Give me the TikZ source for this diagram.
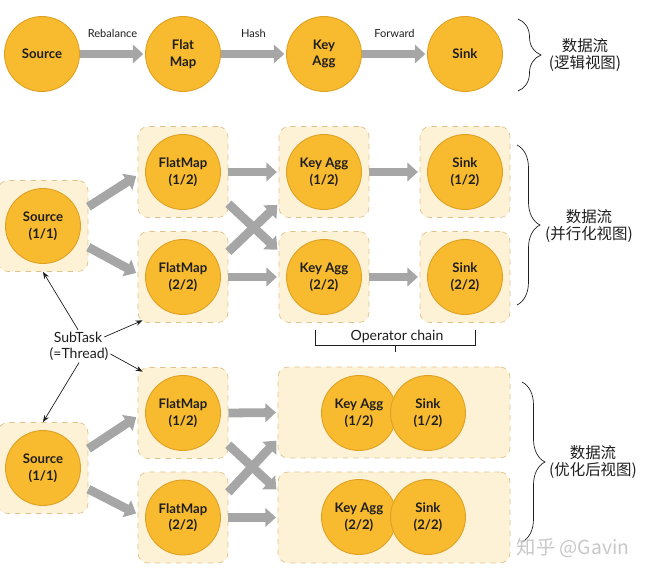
\documentclass[tikz,border=0pt]{standalone}
\usepackage{fontspec}
\setmainfont{Lato}
\newfontfamily\cjk{Noto Sans CJK SC}
\usepackage{tikz}
\usetikzlibrary{arrows.meta,positioning,calc,decorations.pathreplacing}
\definecolor{ink}{RGB}{30,30,30}
\definecolor{opfill}{RGB}{248,186,46}
\definecolor{opline}{RGB}{222,160,34}
\definecolor{taskfill}{RGB}{253,242,214}
\definecolor{taskline}{RGB}{222,194,138}
\definecolor{flowgray}{RGB}{166,166,166}
\definecolor{markgray}{RGB}{200,200,200}
\tikzset{
  opnode/.style={circle,draw=opline,line width=0.5pt,fill=opfill,minimum size=1.5cm,
    inner sep=0pt,align=center,text=ink,font=\fontsize{7.5}{9.5}\selectfont\bfseries},
  taskbox/.style={draw=taskline,dashed,fill=taskfill,rounded corners=0.2cm,
    minimum width=1.8cm,minimum height=1.82cm},
  chainbox/.style={taskbox,minimum width=4.64cm},
  flow/.style={draw=flowgray,line width=5pt,shorten >=1pt,
    -{Triangle[length=6pt,width=10.5pt]}},
  pointer/.style={thin,ink,-{Stealth[length=4pt,width=3pt]}},
  edgelabel/.style={font=\fontsize{6.3}{7}\selectfont,text=ink},
  note/.style={font=\fontsize{8}{10}\selectfont,align=center,text=ink,inner sep=1pt},
  viewnote/.style={font=\cjk\fontsize{8.8}{9.8}\selectfont,align=center,text=ink},
  viewbrace/.style={decorate,decoration={brace,amplitude=0.46cm},thin,ink}
}

\begin{document}
\begin{tikzpicture}[x=0.02cm,y=0.02cm]
  \useasboundingbox (0,0) rectangle (647,-575);

  % logical view
  \node[opnode] (lsrc) at (42,-54) {Source};
  \node[opnode] (lflat) at (183,-54) {Flat\\Map};
  \node[opnode] (lkey) at (324,-54) {Key\\Agg};
  \node[opnode] (lsink) at (465,-54) {Sink};
  \draw[flow] (lsrc) -- node[edgelabel,above=3.5pt] {Rebalance} (lflat);
  \draw[flow] (lflat) -- node[edgelabel,above=3.5pt] {Hash} (lkey);
  \draw[flow] (lkey) -- node[edgelabel,above=3.5pt] {Forward} (lsink);
  \draw[viewbrace] (518,-19) -- (518,-91);
  \node[viewnote] (lview) at (585,-55) {数据流\\(逻辑视图)};

  % parallel view
  \node[taskbox] (psrcbox) at (43,-226) {};
  \node[taskbox] (pflat1box) at (183,-172) {};
  \node[taskbox] (pflat2box) at (183,-277) {};
  \node[taskbox] (pkey1box) at (324,-172) {};
  \node[taskbox] (pkey2box) at (324,-277) {};
  \node[taskbox] (psink1box) at (465,-172) {};
  \node[taskbox] (psink2box) at (465,-277) {};
  \node[opnode] (psrc) at (psrcbox) {Source\\(1/1)};
  \node[opnode] (pflat1) at (pflat1box) {FlatMap\\(1/2)};
  \node[opnode] (pflat2) at (pflat2box) {FlatMap\\(2/2)};
  \node[opnode] (pkey1) at (pkey1box) {Key Agg\\(1/2)};
  \node[opnode] (pkey2) at (pkey2box) {Key Agg\\(2/2)};
  \node[opnode] (psink1) at (psink1box) {Sink\\(1/2)};
  \node[opnode] (psink2) at (psink2box) {Sink\\(2/2)};
  \draw[flow] (psrcbox.23) -- (pflat1box.184);
  \draw[flow] (psrcbox.-25) -- (pflat2box.176);
  \draw[flow] (pflat1box.east) -- (pkey1box.west);
  \draw[flow] (pflat2box.east) -- (pkey2box.west);
  \draw[flow] (pflat1box.-35) -- (pkey2box.150);
  \draw[flow] (pflat2box.29) -- (pkey1box.-145);
  \draw[flow] (pkey1box.east) -- (psink1box.west);
  \draw[flow] (pkey2box.east) -- (psink2box.west);
  \draw[viewbrace] (517,-145) -- (517,-305);
  \node[viewnote] (pview) at (589,-226) {数据流\\(并行化视图)};

  % operator chain bracket
  \node[note] (chain) at (397,-337) {Operator chain};
  \draw[thin,ink] (315,-330) |- (475,-345) -- (475,-330);
  \draw[thin,ink] (395,-345) -- (395,-352);

  % optimized view
  \node[taskbox] (osrcbox) at (43,-468) {};
  \node[taskbox] (oflat1box) at (183,-413) {};
  \node[taskbox] (oflat2box) at (183,-517.5) {};
  \node[chainbox] (ochain1) at (394,-412.5) {};
  \node[chainbox] (ochain2) at (394,-517.5) {};
  \node[opnode] (osrc) at (osrcbox) {Source\\(1/1)};
  \node[opnode] (oflat1) at (oflat1box) {FlatMap\\(1/2)};
  \node[opnode] (oflat2) at (oflat2box) {FlatMap\\(2/2)};
  \node[opnode] (okey1) at (359,-413) {Key Agg\\(1/2)};
  \node[opnode] (osink1) at (428,-413) {Sink\\(1/2)};
  \node[opnode] (okey2) at (359,-517) {Key Agg\\(2/2)};
  \node[opnode] (osink2) at (428,-517) {Sink\\(2/2)};
  \draw[flow] (osrcbox.23) -- (oflat1box.184);
  \draw[flow] (osrcbox.-25) -- (oflat2box.176);
  \draw[flow] (oflat1box.east) -- (ochain1.west);
  \draw[flow] (oflat2box.east) -- (ochain2.west);
  \draw[flow] (oflat1box.-35) -- (ochain2.167);
  \draw[flow] (oflat2box.29) -- (ochain1.193);
  \draw[viewbrace] (522,-382) -- (522,-542);
  \node[viewnote] (oview) at (593,-462) {数据流\\(优化后视图)};

  % subtask pointers
  \node[note] (st1) at (78,-337) {SubTask};
  \node[note] (st2) at (79,-354) {(=Thread)};
  \draw[pointer] (st1.north) -- (psrcbox.south);
  \draw[pointer] (st1.east) -- ([xshift=0.1cm,yshift=0.05cm]pflat2box.south west);
  \draw[pointer] (st2.east) -- ([xshift=0.1cm,yshift=-0.09cm]oflat1box.north west);
  \draw[pointer] (st2.south) -- (osrcbox.north);

  \node[font=\cjk\fontsize{11}{12}\selectfont,text=markgray] (mark) at (573,-548) {知乎 @Gavin};
\end{tikzpicture}
\end{document}
